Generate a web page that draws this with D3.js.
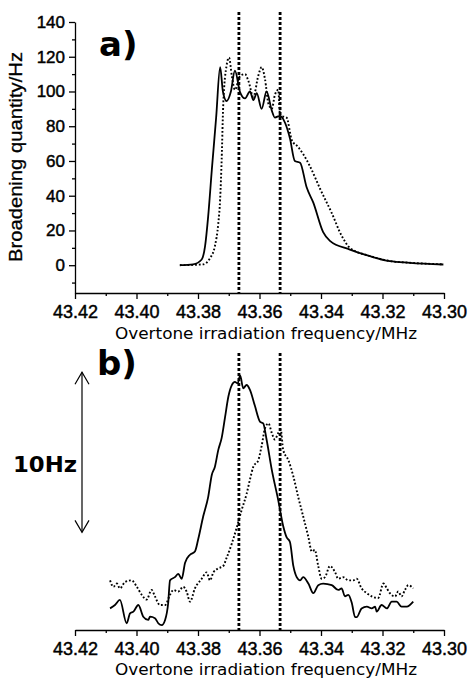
<!DOCTYPE html>
<html>
<head>
<meta charset="utf-8">
<script src="https://cdn.jsdelivr.net/npm/d3@7"></script>
<style>
  body { margin: 0; background: #fff; }
  svg text { fill: #000; }
</style>
</head>
<body>
<svg id="chart" width="468" height="685"></svg>
<script>
// data (frequency in MHz, broadening in Hz)
const xTicks = [43.42, 43.40, 43.38, 43.36, 43.34, 43.32, 43.30];
const xMinorTicks = [43.41, 43.39, 43.37, 43.35, 43.33, 43.31];
const yTicks = [0, 20, 40, 60, 80, 100, 120, 140];
const yMinorTicks = [-10, 10, 30, 50, 70, 90, 110, 130];
const markerFreqs = [43.3667, 43.3533];

const topSolidFreq = [43.3859, 43.3816, 43.3788, 43.3777, 43.3767, 43.3755, 43.3741, 43.3728, 43.3719, 43.3707, 43.3693, 43.3680, 43.3663, 43.3647, 43.3631, 43.3620, 43.3609, 43.3593, 43.3577, 43.3560, 43.3550, 43.3533, 43.3517, 43.3501, 43.3485, 43.3468, 43.3447, 43.3425, 43.3393, 43.3371, 43.3306, 43.3241, 43.3176, 43.3111, 43.3002];
const topSolidVal = [0, 0.5, 3.3, 11, 28, 55, 85, 114, 100, 94.5, 100, 112, 99.5, 96, 100, 95, 99, 90, 100, 89, 85, 86, 82, 73, 60, 59, 45, 36, 19, 14, 9, 5.2, 2.3, 1.4, 0.4];

const topDotFreq = [43.3859, 43.3784, 43.3761, 43.3745, 43.3734, 43.3728, 43.3723, 43.3718, 43.3707, 43.3699, 43.3690, 43.3680, 43.3663, 43.3647, 43.3636, 43.3620, 43.3604, 43.3593, 43.3582, 43.3571, 43.3560, 43.3550, 43.3539, 43.3533, 43.3512, 43.3495, 43.3474, 43.3458, 43.3436, 43.3403, 43.3365, 43.3333, 43.3306, 43.3241, 43.3176, 43.3111, 43.3003];
const topDotVal = [0, 0.5, 4, 11, 24, 38, 61, 92, 115, 119.5, 109, 101, 109, 110, 106, 97, 109, 114, 107, 93, 90, 98, 101, 86, 85, 72, 68, 64, 57, 44, 30, 17, 10, 5.3, 2.4, 1.4, 0.5];

// panel b is in relative Hz (scale bar = 10 Hz)
const botSolidFreq = [43.4086, 43.4070, 43.4054, 43.4032, 43.4021, 43.4010, 43.3994, 43.3978, 43.3962, 43.3956, 43.3940, 43.3929, 43.3918, 43.3907, 43.3897, 43.3891, 43.3875, 43.3864, 43.3853, 43.3842, 43.3826, 43.3810, 43.3799, 43.3783, 43.3767, 43.3755, 43.3745, 43.3734, 43.3723, 43.3712, 43.3701, 43.3690, 43.3680, 43.3671, 43.3663, 43.3653, 43.3642, 43.3631, 43.3615, 43.3598, 43.3588, 43.3577, 43.3560, 43.3539, 43.3523, 43.3512, 43.3501, 43.3490, 43.3479, 43.3468, 43.3458, 43.3441, 43.3425, 43.3409, 43.3393, 43.3365, 43.3344, 43.3333, 43.3322, 43.3311, 43.3300, 43.3289, 43.3284, 43.3268, 43.3251, 43.3235, 43.3224, 43.3219, 43.3203, 43.3186, 43.3170, 43.3154, 43.3138, 43.3121, 43.3111, 43.3100];
const botSolidVal = [1.35, 1.56, 1.88, 0.42, 1.04, 1.15, 1.56, 0.83, 0.63, 0.83, 0.73, 0.42, 0.31, 0.63, 1.67, 3.1, 3.3, 3.5, 3.2, 4.2, 4.7, 4.9, 5.7, 7.1, 8.3, 9.7, 10.2, 11.25, 12, 13.3, 14.6, 15.3, 15.5, 15.4, 15.9, 15.1, 15.3, 15, 14, 13, 12.9, 11.9, 10, 8.1, 6.5, 5.8, 5.5, 4, 3.3, 3.1, 3.3, 2.9, 2.3, 2.8, 2.9, 2.8, 2.5, 2.6, 2.1, 2.2, 1.7, 0.8, 0.8, 1.35, 1.46, 1.35, 1.46, 1.15, 1.56, 1.35, 1.77, 1.77, 1.46, 1.46, 1.56, 1.77];

const botDotFreq = [43.4086, 43.4075, 43.4064, 43.4054, 43.4037, 43.4016, 43.3999, 43.3983, 43.3967, 43.3951, 43.3940, 43.3924, 43.3907, 43.3891, 43.3880, 43.3864, 43.3848, 43.3837, 43.3826, 43.3810, 43.3788, 43.3772, 43.3761, 43.3750, 43.3734, 43.3718, 43.3707, 43.3690, 43.3674, 43.3658, 43.3642, 43.3631, 43.3620, 43.3604, 43.3593, 43.3582, 43.3571, 43.3560, 43.3550, 43.3539, 43.3531, 43.3523, 43.3506, 43.3490, 43.3474, 43.3458, 43.3441, 43.3430, 43.3420, 43.3409, 43.3398, 43.3387, 43.3371, 43.3354, 43.3344, 43.3328, 43.3311, 43.3295, 43.3284, 43.3268, 43.3251, 43.3235, 43.3214, 43.3197, 43.3186, 43.3176, 43.3159, 43.3149, 43.3138, 43.3127, 43.3116, 43.3100];
const botDotVal = [3.1, 2.7, 2.9, 2.6, 3.0, 3.1, 2.7, 2.2, 1.9, 2.5, 2.1, 1.56, 1.56, 2.2, 2.5, 2.4, 2.7, 2.4, 1.77, 2.6, 3.2, 3.6, 3.1, 3.6, 3.85, 4.0, 4.5, 5.4, 6.4, 7.5, 8.5, 9.4, 10.2, 10.6, 11.5, 12.6, 12.9, 12.3, 11.9, 12.3, 12.5, 11.25, 10.6, 9.6, 8.3, 7.1, 5.8, 4.9, 5.0, 4.0, 3.2, 3.3, 4.0, 3.6, 3.2, 3.3, 3.1, 3.1, 3.2, 2.6, 2.3, 2.1, 2.0, 2.9, 2.6, 2.3, 2.1, 2.4, 2.1, 2.5, 2.8, 2.6];

const scaleBar = [6.1, 16.1]; // 10 Hz bar in panel b units

const svg = d3.select("#chart");
const tickFont = "'Liberation Sans', Arial, sans-serif";
const titleFont = "'DejaVu Sans', sans-serif";

// scales
const xTop = d3.scaleLinear().domain([43.42, 43.30]).range([75, 444]);
const yTop = d3.scaleLinear().domain([-16, 140]).range([293, 22]);
const xBot = d3.scaleLinear().domain([43.42, 43.30]).range([75, 444]);
const yBot = d3.scaleLinear().domain([0, 17.3]).range([630, 353]);

const zipPts = (fs, vs) => fs.map((f, i) => [f, vs[i]]);

const drawXAxis = (x, yPos, labelY, titleY) => {
  const g = svg.append("g").attr("transform", `translate(0,${yPos})`);
  g.call(d3.axisBottom(x).tickValues(xTicks).tickSize(6).tickSizeOuter(0).tickFormat(d3.format(".2f")));
  g.append("g").call(d3.axisBottom(x).tickValues(xMinorTicks).tickSize(3).tickFormat(""))
    .select(".domain").remove();
  g.selectAll("path, line").attr("stroke", "#000").attr("stroke-width", 1.3);
  g.selectAll(".tick text")
    .attr("y", labelY)
    .attr("dy", 0)
    .attr("stroke", "#000").attr("stroke-width", 0.45)
    .style("font-family", tickFont)
    .style("font-size", "18px");
  svg.append("text")
    .attr("x", 266).attr("y", titleY)
    .attr("text-anchor", "middle")
    .attr("textLength", 302).attr("lengthAdjust", "spacingAndGlyphs")
    .style("font-family", titleFont)
    .style("font-size", "16px")
    .text("Overtone irradiation frequency/MHz");
};

// panel a axes
drawXAxis(xTop, 293, 25, 339);

const yAxisG = svg.append("g").attr("transform", "translate(75,0)");
yAxisG.call(d3.axisLeft(yTop).tickValues(yTicks).tickSize(6).tickSizeOuter(0).tickFormat(d3.format("d")));
yAxisG.append("g").call(d3.axisLeft(yTop).tickValues(yMinorTicks).tickSize(3).tickFormat(""))
  .select(".domain").remove();
yAxisG.selectAll("path, line").attr("stroke", "#000").attr("stroke-width", 1.3);
yAxisG.selectAll(".tick text")
  .attr("x", -10)
  .attr("stroke", "#000").attr("stroke-width", 0.45)
  .style("font-family", tickFont)
  .style("font-size", "17px");

svg.append("text")
  .attr("transform", "translate(22,157) rotate(-90)")
  .attr("text-anchor", "middle")
  .attr("textLength", 210).attr("lengthAdjust", "spacingAndGlyphs")
  .attr("stroke", "#000").attr("stroke-width", 0.3)
  .style("font-family", tickFont)
  .style("font-size", "18px")
  .text("Broadening quantity/Hz");

// panel b axis (no y axis)
drawXAxis(xBot, 630, 25, 675);

// marker lines
const drawMarkers = (x, y0, y1) => {
  svg.append("g").selectAll("line").data(markerFreqs).join("line")
    .attr("x1", d => x(d)).attr("x2", d => x(d))
    .attr("y1", y0).attr("y2", y1)
    .attr("stroke", "#000")
    .attr("stroke-width", 2.8)
    .attr("stroke-dasharray", "3,2");
};
drawMarkers(xTop, 12, 293);
drawMarkers(xBot, 353, 630);

// curves
const drawCurve = (x, y, pts, dotted) => {
  const line = d3.line().x(d => x(d[0])).y(d => y(d[1])).curve(d3.curveMonotoneX);
  svg.append("path")
    .datum(pts)
    .attr("d", line)
    .attr("fill", "none")
    .attr("stroke", "#000")
    .attr("stroke-width", dotted ? 1.9 : 1.8)
    .attr("stroke-dasharray", dotted ? "1.8,2" : null)
    .attr("stroke-linejoin", "round");
};
drawCurve(xTop, yTop, zipPts(topDotFreq, topDotVal), true);
drawCurve(xTop, yTop, zipPts(topSolidFreq, topSolidVal), false);
drawCurve(xBot, yBot, zipPts(botDotFreq, botDotVal), true);
drawCurve(xBot, yBot, zipPts(botSolidFreq, botSolidVal), false);

// panel labels
svg.append("text").attr("x", 99).attr("y", 56)
  .style("font-family", titleFont).style("font-weight", "bold").style("font-size", "34px")
  .text("a)");
svg.append("text").attr("x", 97).attr("y", 375)
  .style("font-family", titleFont).style("font-weight", "bold").style("font-size", "34px")
  .text("b)");

// 10 Hz scale bar
const barX = 82;
const bar = svg.append("g").attr("stroke", "#000").attr("stroke-width", 1.2).attr("fill", "none");
bar.append("line").attr("x1", barX).attr("x2", barX)
  .attr("y1", yBot(scaleBar[0])).attr("y2", yBot(scaleBar[1]));
bar.append("path").attr("d", `M${barX - 7},${yBot(scaleBar[1]) + 12}L${barX},${yBot(scaleBar[1])}L${barX + 7},${yBot(scaleBar[1]) + 12}`);
bar.append("path").attr("d", `M${barX - 7},${yBot(scaleBar[0]) - 12}L${barX},${yBot(scaleBar[0])}L${barX + 7},${yBot(scaleBar[0]) - 12}`);
svg.append("text").attr("x", 13).attr("y", 472)
  .attr("textLength", 64).attr("lengthAdjust", "spacingAndGlyphs")
  .style("font-family", titleFont).style("font-weight", "bold").style("font-size", "22px")
  .text("10Hz");
</script>
</body>
</html>
